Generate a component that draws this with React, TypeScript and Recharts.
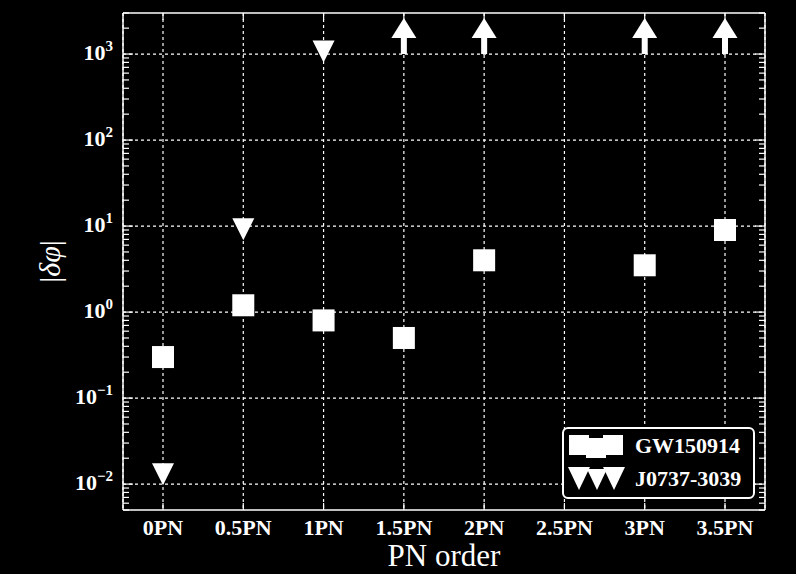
import { ComposedChart, Scatter, XAxis, YAxis, CartesianGrid, Legend } from "recharts";

// PN orders on the x axis
const orders = ["0PN", "0.5PN", "1PN", "1.5PN", "2PN", "2.5PN", "3PN", "3.5PN"];
// |delta phi| bounds
const gw150914 = [0.3, 1.2, 0.8, 0.5, 4.0, null, 3.5, 9.0];
const j07373039 = [0.013, 9.2, 1070, null, null, null, null, null];
// orders where the bound is off the top (drawn as arrows from 10^3)
const offScale = [null, null, null, 1000, 1000, null, 1000, 1000];

const decades = [0.01, 0.1, 1, 10, 100, 1000];
const decadeExp = ["\u22122", "\u22121", "0", "1", "2", "3"];
const yDomain = [0.005, 3000];

const minorTicks: number[] = [];
for (let d = -3; d <= 3; d++) {
  for (let m = 1; m <= 9; m++) {
    const v = Number((m * Math.pow(10, d)).toPrecision(3));
    if (v >= yDomain[0] && v <= yDomain[1]) minorTicks.push(v);
  }
}

const data = orders.map((o, i) => ({
  order: o,
  gw: gw150914[i],
  psr: j07373039[i],
  lim: offScale[i],
}));

const FONT = "'Liberation Serif', 'Times New Roman', serif";
const MAJOR = 10;
const MINOR = 6;
const X_PAD = { left: 40, right: 40 };

const isDecade = (v: number) => decades.includes(v);

function LeftTick(props: any) {
  const { x, y, payload } = props;
  const edge = x + 10;
  const v = payload.value;
  const i = decades.indexOf(v);
  return (
    <g>
      <line x1={edge} x2={edge + (isDecade(v) ? MAJOR : MINOR)} y1={y} y2={y} stroke="#fff" strokeWidth={1.2} />
      {i >= 0 && (
        <text x={x} y={y + 6} textAnchor="end" fill="#fff" fontFamily={FONT} fontWeight="bold" fontSize={22}>
          10
          <tspan dy={-9} fontSize={15}>{decadeExp[i]}</tspan>
        </text>
      )}
    </g>
  );
}

function RightTick(props: any) {
  const { x, y, payload } = props;
  const v = payload.value;
  return <line x1={x} x2={x - (isDecade(v) ? MAJOR : MINOR)} y1={y} y2={y} stroke="#fff" strokeWidth={1.2} />;
}

function BottomTick(props: any) {
  const { x, y, payload } = props;
  const edge = y - 12;
  return (
    <g>
      <line x1={x} x2={x} y1={edge} y2={edge - 7} stroke="#fff" strokeWidth={1.2} />
      <text x={x} y={y + 13} textAnchor="middle" fill="#fff" fontFamily={FONT} fontWeight="bold" fontSize={22}>
        {payload.value}
      </text>
    </g>
  );
}

function TopTick(props: any) {
  const { x, y } = props;
  return <line x1={x} x2={x} y1={y} y2={y + 7} stroke="#fff" strokeWidth={1.2} />;
}

const ok = (p: any) => Number.isFinite(p.cx) && Number.isFinite(p.cy) && p.payload;

function SquareMark(props: any) {
  if (!ok(props) || props.payload.gw == null) return null;
  const { cx, cy } = props;
  return <rect x={cx - 11} y={cy - 11} width={22} height={22} fill="#fff" />;
}

function TriangleMark(props: any) {
  if (!ok(props) || props.payload.psr == null) return null;
  const { cx, cy } = props;
  return <polygon points={`${cx - 11},${cy - 11} ${cx + 11},${cy - 11} ${cx},${cy + 11}`} fill="#fff" />;
}

function ArrowMark(props: any) {
  if (!ok(props) || props.payload.lim == null) return null;
  const { cx, cy } = props;
  return (
    <g fill="#fff">
      <rect x={cx - 3} y={cy - 17} width={6} height={17} />
      <polygon points={`${cx - 12.5},${cy - 16} ${cx + 12.5},${cy - 16} ${cx},${cy - 36}`} />
    </g>
  );
}

function LegendBox() {
  return (
    <div
      style={{
        width: 189,
        height: 68,
        border: "2px solid #fff",
        borderRadius: 6,
        background: "#000",
      }}
    >
      <svg width={189} height={68}>
        <rect x={5} y={6} width={20} height={20} fill="#fff" />
        <rect x={22} y={9} width={20} height={20} fill="#fff" />
        <rect x={39} y={6} width={20} height={20} fill="#fff" />
        <polygon points="4,38 26,38 15,61" fill="#fff" />
        <polygon points="23,40 43,40 33,61" fill="#fff" />
        <polygon points="39,38 61,38 50,61" fill="#fff" />
        <text x={71} y={24} fill="#fff" fontFamily={FONT} fontWeight="bold" fontSize={22}>
          GW150914
        </text>
        <text x={71} y={57} fill="#fff" fontFamily={FONT} fontWeight="bold" fontSize={22}>
          J0737-3039
        </text>
      </svg>
    </div>
  );
}

function YLabel(props: any) {
  const { viewBox } = props;
  const cy = viewBox.y + viewBox.height / 2;
  const cx = 49;
  return (
    <text
      x={cx}
      y={cy}
      transform={`rotate(-90 ${cx} ${cy})`}
      textAnchor="middle"
      dominantBaseline="central"
      fill="#fff"
      fontFamily={FONT}
      fontSize={30}
    >
      |<tspan fontStyle="italic">δφ</tspan>|
    </text>
  );
}

export default function App() {
  return (
    <div style={{ position: "fixed", left: 0, top: 0, width: 796, height: 574, background: "#000" }}>
      <ComposedChart width={796} height={574} data={data} margin={{ top: 12, right: 0, bottom: 0, left: 10 }}>
        <CartesianGrid
          stroke="#fff"
          strokeWidth={1.2}
          strokeDasharray="3 3"
          horizontalValues={decades}
          fill="none"
        />
        <XAxis
          dataKey="order"
          type="category"
          padding={X_PAD}
          height={64}
          tickSize={0}
          tickMargin={12}
          tick={<BottomTick />}
          interval={0}
          axisLine={{ stroke: "#fff", strokeWidth: 1.5 }}
          label={{
            value: "PN order",
            position: "insideBottom",
            offset: 8,
            fill: "#fff",
            fontFamily: FONT,
            fontSize: 31,
          }}
        />
        <XAxis
          xAxisId="top"
          dataKey="order"
          type="category"
          orientation="top"
          padding={X_PAD}
          height={1}
          tickSize={0}
          tickMargin={0}
          tick={<TopTick />}
          interval={0}
          axisLine={{ stroke: "#fff", strokeWidth: 1.5 }}
        />
        <YAxis
          type="number"
          scale="log"
          domain={yDomain}
          allowDataOverflow
          ticks={minorTicks}
          interval={0}
          width={113}
          tickSize={0}
          tickMargin={10}
          tick={<LeftTick />}
          axisLine={{ stroke: "#fff", strokeWidth: 1.5 }}
          label={<YLabel />}
        />
        <YAxis
          yAxisId="right"
          orientation="right"
          type="number"
          scale="log"
          domain={yDomain}
          allowDataOverflow
          ticks={minorTicks}
          interval={0}
          width={31}
          tickSize={0}
          tickMargin={0}
          tick={<RightTick />}
          axisLine={{ stroke: "#fff", strokeWidth: 1.5 }}
        />
        <Scatter name="GW150914" dataKey="gw" shape={<SquareMark />} isAnimationActive={false} />
        <Scatter name="J0737-3039" dataKey="psr" shape={<TriangleMark />} isAnimationActive={false} />
        <Scatter
          name="limit"
          dataKey="lim"
          xAxisId="top"
          yAxisId="right"
          shape={<ArrowMark />}
          isAnimationActive={false}
          legendType="none"
        />
        <Legend
          layout="horizontal"
          verticalAlign="middle"
          align="center"
          content={() => <LegendBox />}
          wrapperStyle={{ left: 562, top: 427, width: 193, height: 72 }}
        />
      </ComposedChart>
    </div>
  );
}
